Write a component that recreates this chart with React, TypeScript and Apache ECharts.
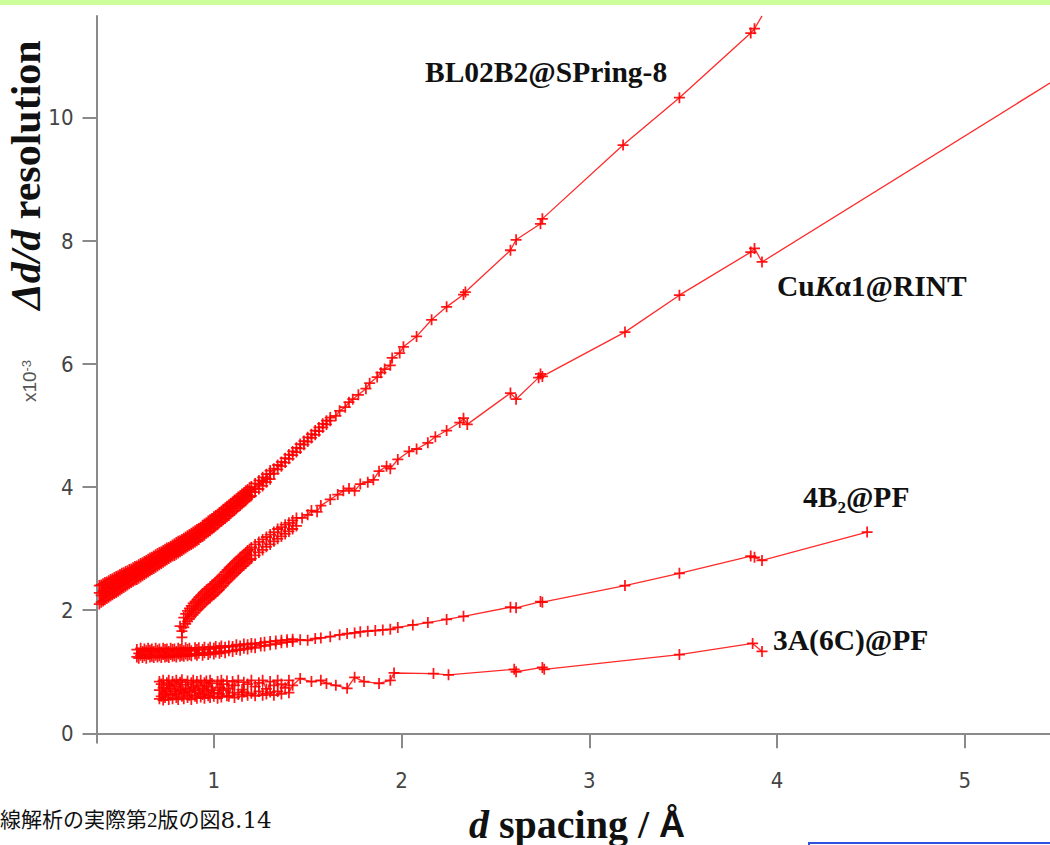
import React, { useEffect, useRef } from "react";
import * as echarts from "echarts";

const xTicks = [1, 2, 3, 4, 5];
const yTicks = [0, 2, 4, 6, 8, 10];

const seriesNames = ["BL02B2@SPring-8", "CuKα1@RINT", "4B2@PF", "3A(6C)@PF"];

// Dense parts: each row is [d, several Δd/d readings at that d]
const bl02b2Dense: number[][] = [
  [0.39, 2.10, 2.28, 2.40], [0.40, 2.13, 2.24, 2.41], [0.41, 2.15, 2.31, 2.43], [0.42, 2.17, 2.28, 2.45],
  [0.43, 2.19, 2.35, 2.46], [0.44, 2.21, 2.32, 2.48], [0.45, 2.23, 2.38, 2.50], [0.46, 2.25, 2.36, 2.51],
  [0.47, 2.27, 2.42, 2.53], [0.48, 2.29, 2.40, 2.55], [0.49, 2.31, 2.45, 2.56], [0.50, 2.33, 2.44, 2.58],
  [0.51, 2.35, 2.49, 2.60], [0.52, 2.37, 2.48, 2.61], [0.53, 2.39, 2.52, 2.63], [0.54, 2.41, 2.51, 2.64],
  [0.55, 2.43, 2.56, 2.66], [0.56, 2.45, 2.55, 2.67], [0.57, 2.47, 2.59, 2.69], [0.58, 2.49, 2.58, 2.71],
  [0.59, 2.50, 2.63, 2.72], [0.60, 2.52, 2.62, 2.74], [0.61, 2.54, 2.66, 2.76], [0.62, 2.56, 2.65, 2.77],
  [0.63, 2.58, 2.70, 2.79], [0.64, 2.60, 2.69, 2.81], [0.65, 2.62, 2.74, 2.83], [0.66, 2.64, 2.73, 2.85],
  [0.67, 2.66, 2.78, 2.86], [0.68, 2.68, 2.77, 2.88], [0.69, 2.70, 2.81, 2.90], [0.70, 2.72, 2.80, 2.92],
  [0.71, 2.74, 2.85, 2.94], [0.72, 2.76, 2.84, 2.95], [0.73, 2.78, 2.89, 2.97], [0.74, 2.80, 2.88, 2.99],
  [0.75, 2.82, 2.93, 3.01], [0.76, 2.84, 2.92, 3.02], [0.77, 2.86, 2.96, 3.04], [0.78, 2.88, 2.95, 3.06],
  [0.79, 2.89, 3.00, 3.08], [0.80, 2.91, 2.99, 3.10], [0.81, 2.93, 3.03, 3.12], [0.82, 2.95, 3.02, 3.13],
  [0.83, 2.97, 3.07, 3.15], [0.84, 2.99, 3.06, 3.17], [0.85, 3.01, 3.11, 3.19], [0.86, 3.03, 3.10, 3.21],
  [0.87, 3.05, 3.15, 3.23], [0.88, 3.07, 3.14, 3.25], [0.89, 3.09, 3.19, 3.27], [0.90, 3.11, 3.18, 3.29],
  [0.91, 3.13, 3.23, 3.31], [0.92, 3.15, 3.23, 3.33], [0.93, 3.18, 3.28, 3.35], [0.94, 3.20, 3.28, 3.38],
  [0.95, 3.22, 3.33, 3.40], [0.96, 3.25, 3.32, 3.42], [0.97, 3.27, 3.38, 3.45], [0.98, 3.29, 3.37, 3.47],
  [0.99, 3.32, 3.42, 3.49], [1.00, 3.34, 3.42, 3.52], [1.01, 3.37, 3.47, 3.54], [1.02, 3.39, 3.46, 3.56],
  [1.03, 3.42, 3.52, 3.59], [1.04, 3.44, 3.51, 3.61], [1.05, 3.47, 3.57, 3.64], [1.06, 3.49, 3.56, 3.66],
  [1.07, 3.52, 3.62, 3.69], [1.08, 3.54, 3.61, 3.71], [1.09, 3.57, 3.67, 3.74], [1.10, 3.60, 3.66, 3.76],
  [1.11, 3.62, 3.72, 3.79], [1.12, 3.65, 3.72, 3.81], [1.13, 3.68, 3.77, 3.84], [1.14, 3.70, 3.77, 3.86],
  [1.15, 3.73, 3.82, 3.89], [1.16, 3.76, 3.83, 3.91], [1.17, 3.78, 3.88, 3.94], [1.18, 3.81, 3.88, 3.96],
  [1.19, 3.84, 3.93, 3.99], [1.20, 3.86, 3.93, 4.01], [1.22, 3.92, 3.98, 4.06], [1.24, 3.97, 4.05, 4.11],
  [1.26, 4.02, 4.10, 4.16], [1.28, 4.08, 4.14, 4.21], [1.30, 4.13, 4.21, 4.27], [1.32, 4.22, 4.30],
  [1.34, 4.29, 4.36], [1.36, 4.34, 4.41], [1.38, 4.40, 4.47], [1.40, 4.46, 4.53], [1.42, 4.52, 4.58],
  [1.44, 4.57, 4.64], [1.46, 4.63, 4.70], [1.48, 4.69, 4.75], [1.50, 4.74, 4.81], [1.52, 4.80, 4.86],
  [1.54, 4.85, 4.92], [1.56, 4.91, 4.97], [1.58, 4.97, 5.03], [1.60, 5.02, 5.08], [1.62, 5.08, 5.13],
];
const bl02b2Sparse: number[][] = [
  [1.65, 5.16], [1.67, 5.24], [1.70, 5.30], [1.72, 5.38], [1.74, 5.43], [1.77, 5.50], [1.81, 5.60], [1.83, 5.69],
  [1.87, 5.79], [1.89, 5.86], [1.91, 5.92], [1.94, 5.98], [1.95, 6.10], [1.99, 6.18], [2.01, 6.28], [2.08, 6.45],
  [2.16, 6.72], [2.24, 6.93], [2.33, 7.13], [2.34, 7.17], [2.58, 7.85], [2.61, 8.02], [2.74, 8.28], [2.75, 8.36],
  [3.18, 9.56], [3.48, 10.33], [3.86, 11.38], [3.88, 11.45], [3.92, 11.66],
];

const cuKa1Dense: number[][] = [
  [0.83, 1.56, 1.66], [0.82, 1.74], [0.84, 1.72, 1.88], [0.85, 1.78, 1.94], [0.86, 1.82, 1.99], [0.87, 1.86, 2.03],
  [0.88, 1.90, 2.07], [0.89, 1.93, 2.11], [0.90, 1.96, 2.14], [0.91, 2.00, 2.17], [0.92, 2.03, 2.21],
  [0.93, 2.06, 2.24], [0.94, 2.09, 2.27], [0.95, 2.12, 2.30], [0.96, 2.15, 2.33], [0.97, 2.18, 2.35],
  [0.98, 2.20, 2.38], [0.99, 2.23, 2.41], [1.00, 2.25, 2.43], [1.01, 2.28, 2.46], [1.02, 2.31, 2.49],
  [1.03, 2.34, 2.52], [1.04, 2.37, 2.55], [1.05, 2.40, 2.58], [1.06, 2.44, 2.62], [1.07, 2.47, 2.65],
  [1.08, 2.50, 2.68], [1.09, 2.53, 2.71], [1.10, 2.56, 2.74], [1.11, 2.59, 2.77], [1.12, 2.62, 2.80],
  [1.13, 2.65, 2.83], [1.14, 2.68, 2.86], [1.15, 2.71, 2.88], [1.16, 2.73, 2.91], [1.17, 2.76, 2.94],
  [1.18, 2.79, 2.97], [1.19, 2.82, 2.99], [1.20, 2.84, 3.02], [1.22, 2.89, 3.07], [1.24, 2.94, 3.11],
  [1.26, 2.98, 3.15], [1.28, 3.03, 3.19], [1.30, 3.07, 3.23], [1.32, 3.12, 3.27], [1.34, 3.16, 3.32],
  [1.36, 3.20, 3.35], [1.38, 3.24, 3.39], [1.40, 3.28, 3.42], [1.42, 3.32, 3.46], [1.44, 3.37, 3.50],
];
const cuKa1Sparse: number[][] = [
  [1.47, 3.50], [1.50, 3.55], [1.52, 3.62], [1.55, 3.60], [1.57, 3.70], [1.62, 3.80], [1.66, 3.88], [1.69, 3.94],
  [1.72, 3.98], [1.75, 3.94], [1.78, 4.05], [1.82, 4.08], [1.85, 4.12], [1.88, 4.26], [1.92, 4.34], [1.94, 4.30],
  [1.98, 4.45], [2.04, 4.58], [2.08, 4.62], [2.14, 4.72], [2.18, 4.82], [2.24, 4.92], [2.31, 5.05], [2.33, 5.12],
  [2.35, 5.02], [2.58, 5.53], [2.61, 5.43], [2.73, 5.78], [2.74, 5.84], [2.75, 5.80], [3.19, 6.52], [3.48, 7.12],
  [3.86, 7.82], [3.88, 7.88], [3.92, 7.66], [5.55, 10.75],
];

const b4Dense: number[][] = [
  [0.59, 1.24, 1.36], [0.60, 1.30, 1.22], [0.61, 1.38, 1.27], [0.62, 1.23, 1.33], [0.63, 1.37, 1.26],
  [0.64, 1.22, 1.34], [0.65, 1.38, 1.28], [0.66, 1.24, 1.35], [0.67, 1.37, 1.25], [0.68, 1.23, 1.33],
  [0.69, 1.38, 1.27], [0.70, 1.24, 1.35], [0.71, 1.37, 1.26], [0.72, 1.23, 1.32], [0.73, 1.38, 1.28],
  [0.74, 1.24, 1.36], [0.75, 1.37, 1.25], [0.76, 1.23, 1.33], [0.77, 1.38, 1.28], [0.78, 1.25, 1.36],
  [0.79, 1.37, 1.26], [0.80, 1.24, 1.33], [0.81, 1.38, 1.29], [0.82, 1.25, 1.36], [0.83, 1.38, 1.27],
  [0.84, 1.25, 1.34], [0.85, 1.39, 1.29], [0.86, 1.26, 1.36], [0.87, 1.38, 1.28], [0.88, 1.26, 1.34],
  [0.90, 1.39, 1.29], [0.91, 1.27, 1.36], [0.92, 1.39, 1.30], [0.94, 1.27, 1.36], [0.95, 1.40, 1.31],
  [0.97, 1.28, 1.37], [0.98, 1.40, 1.31], [1.00, 1.29, 1.38], [1.01, 1.41, 1.32], [1.03, 1.30, 1.39],
  [1.04, 1.42, 1.33], [1.06, 1.31, 1.40], [1.08, 1.42, 1.34], [1.10, 1.33, 1.41], [1.12, 1.44, 1.36],
  [1.14, 1.35, 1.42], [1.16, 1.45, 1.38], [1.18, 1.37, 1.44], [1.20, 1.46, 1.40], [1.22, 1.39, 1.45],
  [1.25, 1.47, 1.42], [1.27, 1.42, 1.48], [1.30, 1.49, 1.44], [1.33, 1.45, 1.50], [1.36, 1.51, 1.47],
  [1.39, 1.48, 1.52], [1.42, 1.53, 1.49],
];
const b4Sparse: number[][] = [
  [1.46, 1.52], [1.50, 1.51], [1.54, 1.54], [1.57, 1.55], [1.62, 1.57], [1.67, 1.60], [1.71, 1.62], [1.75, 1.63],
  [1.78, 1.65], [1.82, 1.66], [1.86, 1.67], [1.90, 1.68], [1.94, 1.69], [1.98, 1.72], [2.06, 1.76], [2.14, 1.80],
  [2.24, 1.85], [2.33, 1.90], [2.58, 2.05], [2.61, 2.04], [2.74, 2.14], [2.75, 2.13], [3.19, 2.40], [3.48, 2.60],
  [3.86, 2.88], [3.88, 2.86], [3.92, 2.81], [4.48, 3.27],
];

const a3Dense: number[][] = [
  [0.71, 0.56, 0.84, 0.70], [0.72, 0.60, 0.80], [0.73, 0.54, 0.74, 0.86], [0.74, 0.64, 0.58], [0.75, 0.82, 0.68],
  [0.76, 0.55, 0.78, 0.86], [0.77, 0.62, 0.72], [0.78, 0.84, 0.56], [0.79, 0.68, 0.80], [0.80, 0.58, 0.86, 0.64],
  [0.81, 0.76, 0.55], [0.82, 0.70, 0.83], [0.83, 0.60, 0.87], [0.84, 0.66, 0.56], [0.85, 0.79, 0.72],
  [0.86, 0.58, 0.85], [0.87, 0.68, 0.62], [0.88, 0.82, 0.55], [0.89, 0.74, 0.86], [0.90, 0.60, 0.70],
  [0.91, 0.84, 0.57], [0.92, 0.66, 0.78], [0.93, 0.59, 0.86], [0.94, 0.72, 0.63], [0.95, 0.82, 0.57],
  [0.96, 0.69, 0.85], [0.97, 0.61, 0.76], [0.98, 0.86, 0.58], [0.99, 0.70, 0.81], [1.00, 0.60, 0.66],
  [1.02, 0.84, 0.57], [1.03, 0.74, 0.64], [1.04, 0.86, 0.59], [1.05, 0.70, 0.80], [1.07, 0.61, 0.85],
  [1.08, 0.73, 0.60], [1.10, 0.84, 0.66], [1.11, 0.58, 0.78], [1.13, 0.86, 0.63], [1.15, 0.71, 0.60],
  [1.16, 0.83, 0.67], [1.18, 0.62, 0.80], [1.20, 0.86, 0.65], [1.22, 0.61, 0.76], [1.24, 0.82, 0.68],
  [1.26, 0.62, 0.86], [1.28, 0.72, 0.64], [1.30, 0.84, 0.67], [1.32, 0.62, 0.78], [1.34, 0.86, 0.68],
  [1.36, 0.64, 0.80], [1.38, 0.74], [1.40, 0.86, 0.66], [1.42, 0.78],
];
const a3Sparse: number[][] = [
  [1.46, 0.89], [1.52, 0.84], [1.57, 0.86], [1.60, 0.81], [1.65, 0.78], [1.71, 0.73], [1.75, 0.91], [1.80, 0.84],
  [1.88, 0.81], [1.94, 0.86], [1.96, 0.98], [2.17, 0.97], [2.25, 0.95], [2.60, 1.04], [2.61, 1.00], [2.75, 1.07],
  [2.76, 1.04], [3.48, 1.28], [3.87, 1.46], [3.92, 1.33],
];

const flatten = (rows: number[][]) => {
  const out: number[][] = [];
  rows.forEach((r) => {
    for (let i = 1; i < r.length; i++) out.push([r[0], r[i]]);
  });
  return out;
};

const PLUS = "path://M4.2,0H5.8V4.2H10V5.8H5.8V10H4.2V5.8H0V4.2H4.2Z";

export default function App() {
  const ref = useRef<HTMLDivElement>(null);
  useEffect(() => {
    document.body.style.margin = "0";
    const chart = echarts.init(ref.current!, undefined, { renderer: "svg" });
    const mk = (name: string, data: number[][]) => ({
      name,
      type: "line",
      data,
      symbol: PLUS,
      symbolSize: 11,
      showAllSymbol: true,
      clip: true,
      lineStyle: { color: "#ff2a2a", width: 1.3 },
      itemStyle: { color: "rgba(255,0,0,0.9)" },
      emphasis: { disabled: true },
    });
    const serif = "'Liberation Serif', 'Times New Roman', serif";
    const lbl = (text: string, x: number, y: number, rich?: any) => ({
      type: "text",
      x,
      y,
      style: {
        text,
        fill: "#111",
        fontFamily: serif,
        fontWeight: "bold",
        fontSize: 29.5,
        align: "left",
        verticalAlign: "middle",
        rich,
      },
    });
    chart.setOption({
      animation: false,
      backgroundColor: "#ffffff",
      grid: { left: 96.5, top: 16, right: 0, bottom: 102.3, containLabel: false },
      xAxis: {
        type: "value",
        min: 0.375,
        max: 5.454,
        axisLine: { show: true, lineStyle: { color: "#8a8a8a", width: 2 } },
        axisTick: { show: true, length: 15, customValues: xTicks, lineStyle: { color: "#8a8a8a", width: 2 } },
        axisLabel: {
          customValues: xTicks,
          margin: 27,
          color: "#444",
          fontSize: 22,
          fontFamily: "'Liberation Sans Narrow', 'DejaVu Sans Condensed', sans-serif",
        },
        splitLine: { show: false },
      },
      yAxis: {
        type: "value",
        min: -0.153,
        max: 11.657,
        axisLine: { show: true, lineStyle: { color: "#8a8a8a", width: 2 } },
        axisTick: { show: true, length: 14, customValues: yTicks, lineStyle: { color: "#8a8a8a", width: 2 } },
        axisLabel: {
          customValues: yTicks,
          margin: 23,
          color: "#444",
          fontSize: 22,
          fontFamily: "'Liberation Sans Narrow', 'DejaVu Sans Condensed', sans-serif",
        },
        splitLine: { show: false },
      },
      series: [
        mk(seriesNames[0], flatten(bl02b2Dense).concat(bl02b2Sparse)),
        mk(seriesNames[1], flatten(cuKa1Dense).concat(cuKa1Sparse)),
        mk(seriesNames[2], flatten(b4Dense).concat(b4Sparse)),
        mk(seriesNames[3], flatten(a3Dense).concat(a3Sparse)),
      ],
      graphic: [
        { type: "rect", shape: { x: 0, y: 0, width: 1050, height: 5 }, style: { fill: "#ccff99" } },
        {
          type: "rect",
          shape: { x: 809, y: 843, width: 250, height: 10 },
          style: { fill: "#ffffff", stroke: "#3050e0", lineWidth: 2 },
        },
        lbl("BL02B2@SPring-8", 425, 72),
        lbl("Cu{k|K}α1@RINT", 777, 286, {
          k: { fontStyle: "italic", fontWeight: "bold", fontSize: 29.5, fontFamily: serif, fill: "#111" },
        }),
        lbl("4B{s|2}@PF", 803, 497, {
          s: { fontWeight: "bold", fontSize: 17, fontFamily: serif, fill: "#111", padding: [20, 0, 0, 0] },
        }),
        lbl("3A(6C)@PF", 773, 640),
        {
          type: "text",
          x: 26,
          y: 175,
          rotation: Math.PI / 2,
          style: {
            text: "{i|Δd/d} resolution",
            fill: "#111",
            fontFamily: serif,
            fontWeight: "bold",
            fontSize: 42,
            align: "center",
            verticalAlign: "middle",
            rich: { i: { fontStyle: "italic", fontWeight: "bold", fontSize: 42, fontFamily: serif, fill: "#111" } },
          },
        },
        {
          type: "text",
          x: 29,
          y: 381,
          rotation: Math.PI / 2,
          style: {
            text: "x10{s|-3}",
            fill: "#555",
            fontFamily: "'Liberation Sans', sans-serif",
            fontSize: 19,
            align: "center",
            verticalAlign: "middle",
            rich: { s: { fontSize: 13, verticalAlign: "top", lineHeight: 10, fill: "#555", fontFamily: "'Liberation Sans', sans-serif" } },
          },
        },
        {
          type: "text",
          x: 577,
          y: 824,
          style: {
            text: "{i|d} spacing / {a|Å}",
            fill: "#111",
            fontFamily: serif,
            fontWeight: "bold",
            fontSize: 40,
            align: "center",
            verticalAlign: "middle",
            rich: {
              i: { fontStyle: "italic", fontWeight: "bold", fontSize: 40, fontFamily: serif, fill: "#111" },
              a: { fontWeight: "bold", fontSize: 36, fontFamily: "'Liberation Sans', sans-serif", fill: "#111" },
            },
          },
        },
        {
          type: "text",
          x: 0,
          y: 820,
          style: {
            text: "線解析の実際第2版の図{n|8.14}",
            fill: "#111",
            fontFamily: "'Liberation Serif', 'Noto Sans CJK JP', serif",
            fontSize: 21,
            align: "left",
            verticalAlign: "middle",
            rich: { n: { fontSize: 23, fontFamily: "'DejaVu Serif', serif", fill: "#111" } },
          },
        },
      ],
    });
    return () => chart.dispose();
  }, []);
  return <div ref={ref} style={{ width: 1050, height: 845 }} />;
}
